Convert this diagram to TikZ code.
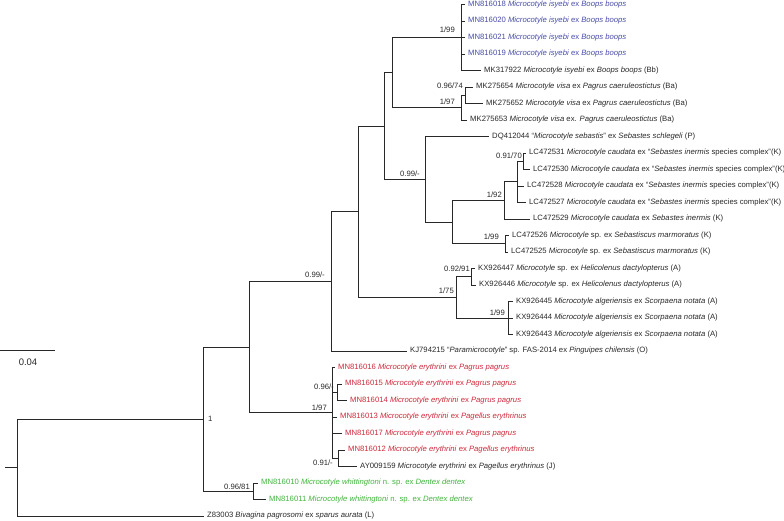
\documentclass[tikz,border=0pt]{standalone}
\usepackage{fontspec}
\setmainfont{Liberation Sans}
\usetikzlibrary{positioning, calc}
\definecolor{treeblue}{RGB}{72,76,168}
\definecolor{treered}{RGB}{204,40,58}
\definecolor{treegreen}{RGB}{64,180,60}
\definecolor{treegray}{RGB}{40,40,40}
\newcommand{\isyebi}{\textit{Microcotyle isyebi} ex \textit{Boops boops}}
\newcommand{\visa}{\textit{Microcotyle visa}}
\newcommand{\caudatasc}{\textit{Microcotyle caudata} ex “\textit{Sebastes inermis} species complex”(K)}
\newcommand{\erypagrus}{\textit{Microcotyle erythrini} ex \textit{Pagrus pagrus}}
\newcommand{\erypagellus}{\textit{Microcotyle erythrini} ex \textit{Pagellus erythrinus}}
\newcommand{\whitt}{\textit{Microcotyle whittingtoni} n. sp. ex \textit{Dentex dentex}}
\tikzset{
    branch/.style={line width=0.8pt, draw=treegray},
    leaflab/.style={anchor=west, inner xsep=3pt, inner ysep=1pt, font=\fontsize{7.7}{9}\selectfont, text=#1},
    leaflab/.default=treegray,
    supp/.style={inner sep=1pt, font=\fontsize{7.7}{9}\selectfont, text=treegray},
    scalelab/.style={font=\fontsize{9.5}{11}\selectfont, text=treegray}
}

\begin{document}
\begin{tikzpicture}[x=1pt, y=-1pt]
    \useasboundingbox (0,0) rectangle (784,521);
    % internal nodes
    \coordinate (stub) at (5,467.59);
    \coordinate (root) at (17,467.59);
    \coordinate (M) at (203,419.18);
    \coordinate (B) at (249,347.1);
    \coordinate (W) at (253,491.25);
    \coordinate (A) at (331,281.33);
    \coordinate (R) at (332,412.88);
    \coordinate (R2) at (337,392.25);
    \coordinate (R3) at (338,458.25);
    \coordinate (J) at (358,211.65);
    \coordinate (C) at (384,125.93);
    \coordinate (E) at (392,72.56);
    \coordinate (I) at (461,37.5);
    \coordinate (V) at (461,107.63);
    \coordinate (V2) at (465,95.25);
    \coordinate (D) at (425,179.3);
    \coordinate (F) at (452,222.09);
    \coordinate (G) at (504,200.44);
    \coordinate (K) at (517,181.88);
    \coordinate (K2) at (523,161.25);
    \coordinate (H) at (505,243.75);
    \coordinate (X) at (456,297.38);
    \coordinate (X2) at (471,276.75);
    \coordinate (X3) at (508,318);
    % tips
    \coordinate (t1) at (465,4.5);
    \coordinate (t2) at (465,21);
    \coordinate (t3) at (465,37.5);
    \coordinate (t4) at (465,54);
    \coordinate (t5) at (481,70.5);
    \coordinate (t6) at (473,87);
    \coordinate (t7) at (483,103.5);
    \coordinate (t8) at (467,120);
    \coordinate (t9) at (489,136.5);
    \coordinate (t10) at (526,153);
    \coordinate (t11) at (530,169.5);
    \coordinate (t12) at (524,186);
    \coordinate (t13) at (526,202.5);
    \coordinate (t14) at (530,219);
    \coordinate (t15) at (509,235.5);
    \coordinate (t16) at (508,252);
    \coordinate (t17) at (475,268.5);
    \coordinate (t18) at (476,285);
    \coordinate (t19) at (513,301.5);
    \coordinate (t20) at (513,318);
    \coordinate (t21) at (513,334.5);
    \coordinate (t22) at (407,351);
    \coordinate (t23) at (335,367.5);
    \coordinate (t24) at (342,384);
    \coordinate (t25) at (347,400.5);
    \coordinate (t26) at (337,417);
    \coordinate (t27) at (342,433.5);
    \coordinate (t28) at (345,450);
    \coordinate (t29) at (357,466.5);
    \coordinate (t30) at (258,483);
    \coordinate (t31) at (266,499.5);
    \coordinate (t32) at (204,516);
    % branches
    \draw[branch] (stub) -- (root);
    \draw[branch] (root) |- (M) (root) |- (t32);
    \draw[branch] (M) |- (B) (M) |- (W);
    \draw[branch] (B) |- (A) (B) |- (R);
    \draw[branch] (A) |- (J) (A) |- (t22);
    \draw[branch] (J) |- (C) (J) |- (X);
    \draw[branch] (C) |- (E) (C) |- (D);
    \draw[branch] (E) |- (I) (E) |- (V);
    \draw[branch] (I) |- (t1) (I) |- (t2) (I) |- (t3) (I) |- (t4) (I) |- (t5);
    \draw[branch] (V) |- (V2) (V) |- (t8);
    \draw[branch] (V2) |- (t6) (V2) |- (t7);
    \draw[branch] (D) |- (t9) (D) |- (F);
    \draw[branch] (F) |- (G) (F) |- (H);
    \draw[branch] (G) |- (K) (G) |- (t14);
    \draw[branch] (K) |- (K2) (K) |- (t12) (K) |- (t13);
    \draw[branch] (K2) |- (t10) (K2) |- (t11);
    \draw[branch] (H) |- (t15) (H) |- (t16);
    \draw[branch] (X) |- (X2) (X) |- (X3);
    \draw[branch] (X2) |- (t17) (X2) |- (t18);
    \draw[branch] (X3) |- (t19) (X3) |- (t20) (X3) |- (t21);
    \draw[branch] (R) |- (t23) (R) |- (R2) (R) |- (t26) (R) |- (t27) (R) |- (R3);
    \draw[branch] (R2) |- (t24) (R2) |- (t25);
    \draw[branch] (R3) |- (t28) (R3) |- (t29);
    \draw[branch] (W) |- (t30) (W) |- (t31);
    % tip labels
    \node[leaflab=treeblue] (n1) at (t1) {MN816018 \isyebi};
    \node[leaflab=treeblue] (n2) at (t2) {MN816020 \isyebi};
    \node[leaflab=treeblue] (n3) at (t3) {MN816021 \isyebi};
    \node[leaflab=treeblue] (n4) at (t4) {MN816019 \isyebi};
    \node[leaflab] (n5) at (t5) {MK317922 \isyebi{} (Bb)};
    \node[leaflab] (n6) at (t6) {MK275654 \visa{} ex \textit{Pagrus caeruleostictus} (Ba)};
    \node[leaflab] (n7) at (t7) {MK275652 \visa{} ex \textit{Pagrus caeruleostictus} (Ba)};
    \node[leaflab] (n8) at (t8) {MK275653 \visa{} ex. \textit{Pagrus caeruleostictus} (Ba)};
    \node[leaflab] (n9) at (t9) {DQ412044 “\textit{Microcotyle sebastis}” ex \textit{Sebastes schlegeli} (P)};
    \node[leaflab] (n10) at (t10) {LC472531 \caudatasc};
    \node[leaflab] (n11) at (t11) {LC472530 \caudatasc};
    \node[leaflab] (n12) at (t12) {LC472528 \caudatasc};
    \node[leaflab] (n13) at (t13) {LC472527 \caudatasc};
    \node[leaflab] (n14) at (t14) {LC472529 \textit{Microcotyle caudata} ex \textit{Sebastes inermis} (K)};
    \node[leaflab] (n15) at (t15) {LC472526 \textit{Microcotyle} sp. ex \textit{Sebastiscus marmoratus} (K)};
    \node[leaflab] (n16) at (t16) {LC472525 \textit{Microcotyle} sp. ex \textit{Sebastiscus marmoratus} (K)};
    \node[leaflab] (n17) at (t17) {KX926447 \textit{Microcotyle} sp. ex \textit{Helicolenus dactylopterus} (A)};
    \node[leaflab] (n18) at (t18) {KX926446 \textit{Microcotyle} sp. ex \textit{Helicolenus dactylopterus} (A)};
    \node[leaflab] (n19) at (t19) {KX926445 \textit{Microcotyle algeriensis} ex \textit{Scorpaena notata} (A)};
    \node[leaflab] (n20) at (t20) {KX926444 \textit{Microcotyle algeriensis} ex \textit{Scorpaena notata} (A)};
    \node[leaflab] (n21) at (t21) {KX926443 \textit{Microcotyle algeriensis} ex \textit{Scorpaena notata} (A)};
    \node[leaflab] (n22) at (t22) {KJ794215 “\textit{Paramicrocotyle}” sp. FAS-2014 ex \textit{Pinguipes chilensis} (O)};
    \node[leaflab=treered] (n23) at (t23) {MN816016 \erypagrus};
    \node[leaflab=treered] (n24) at (t24) {MN816015 \erypagrus};
    \node[leaflab=treered] (n25) at (t25) {MN816014 \erypagrus};
    \node[leaflab=treered] (n26) at (t26) {MN816013 \erypagellus};
    \node[leaflab=treered] (n27) at (t27) {MN816017 \erypagrus};
    \node[leaflab=treered] (n28) at (t28) {MN816012 \erypagellus};
    \node[leaflab] (n29) at (t29) {AY009159 \erypagellus{} (J)};
    \node[leaflab=treegreen] (n30) at (t30) {MN816010 \whitt};
    \node[leaflab=treegreen] (n31) at (t31) {MN816011 \whitt};
    \node[leaflab] (n32) at (t32) {Z83003 \textit{Bivagina pagrosomi} ex \textit{sparus aurata} (L)};
    % support values
    \node[supp, above left=3.5pt and 5pt of I] (sI) {1/99};
    \node[supp, above left=5pt and 1pt of V2] (sV2) {0.96/74};
    \node[supp, above left=2pt and 5pt of V] (sV) {1/97};
    \node[supp, above left=2pt and 4pt of D] (sD) {0.99/-};
    \node[supp, above left=1.5pt and 0pt of K2] (sK2) {0.91/70};
    \node[supp, above left=1.5pt and 1pt of G] (sG) {1/92};
    \node[supp, above left=2.5pt and 5pt of H] (sH) {1/99};
    \node[supp, above left=4pt and 0pt of X2] (sX2) {0.92/91};
    \node[supp, above left=3pt and 1pt of X] (sX) {1/75};
    \node[supp, above left=1.5pt and 2pt of X3] (sX3) {1/99};
    \node[supp, above left=3pt and 5pt of A] (sA) {0.99/-};
    \node[supp, above left=1pt and 2pt of R2] (sR2) {0.96/-};
    \node[supp, above left=1.5pt and 4pt of R] (sR) {1/97};
    \node[supp, below left=0.5pt and 4pt of R3] (sR3) {0.91/-};
    \node[supp, above left=0.5pt and 2pt of W] (sW) {0.96/81};
    \node[supp, right=4pt of M] (sM) {1};
    % scale bar
    \coordinate (sb0) at (0,350.5);
    \coordinate (sb1) at (55,350.5);
    \draw[branch] (sb0) -- (sb1);
    \node[scalelab] (sblab) at (28,362.5) {0.04};
\end{tikzpicture}
\end{document}
